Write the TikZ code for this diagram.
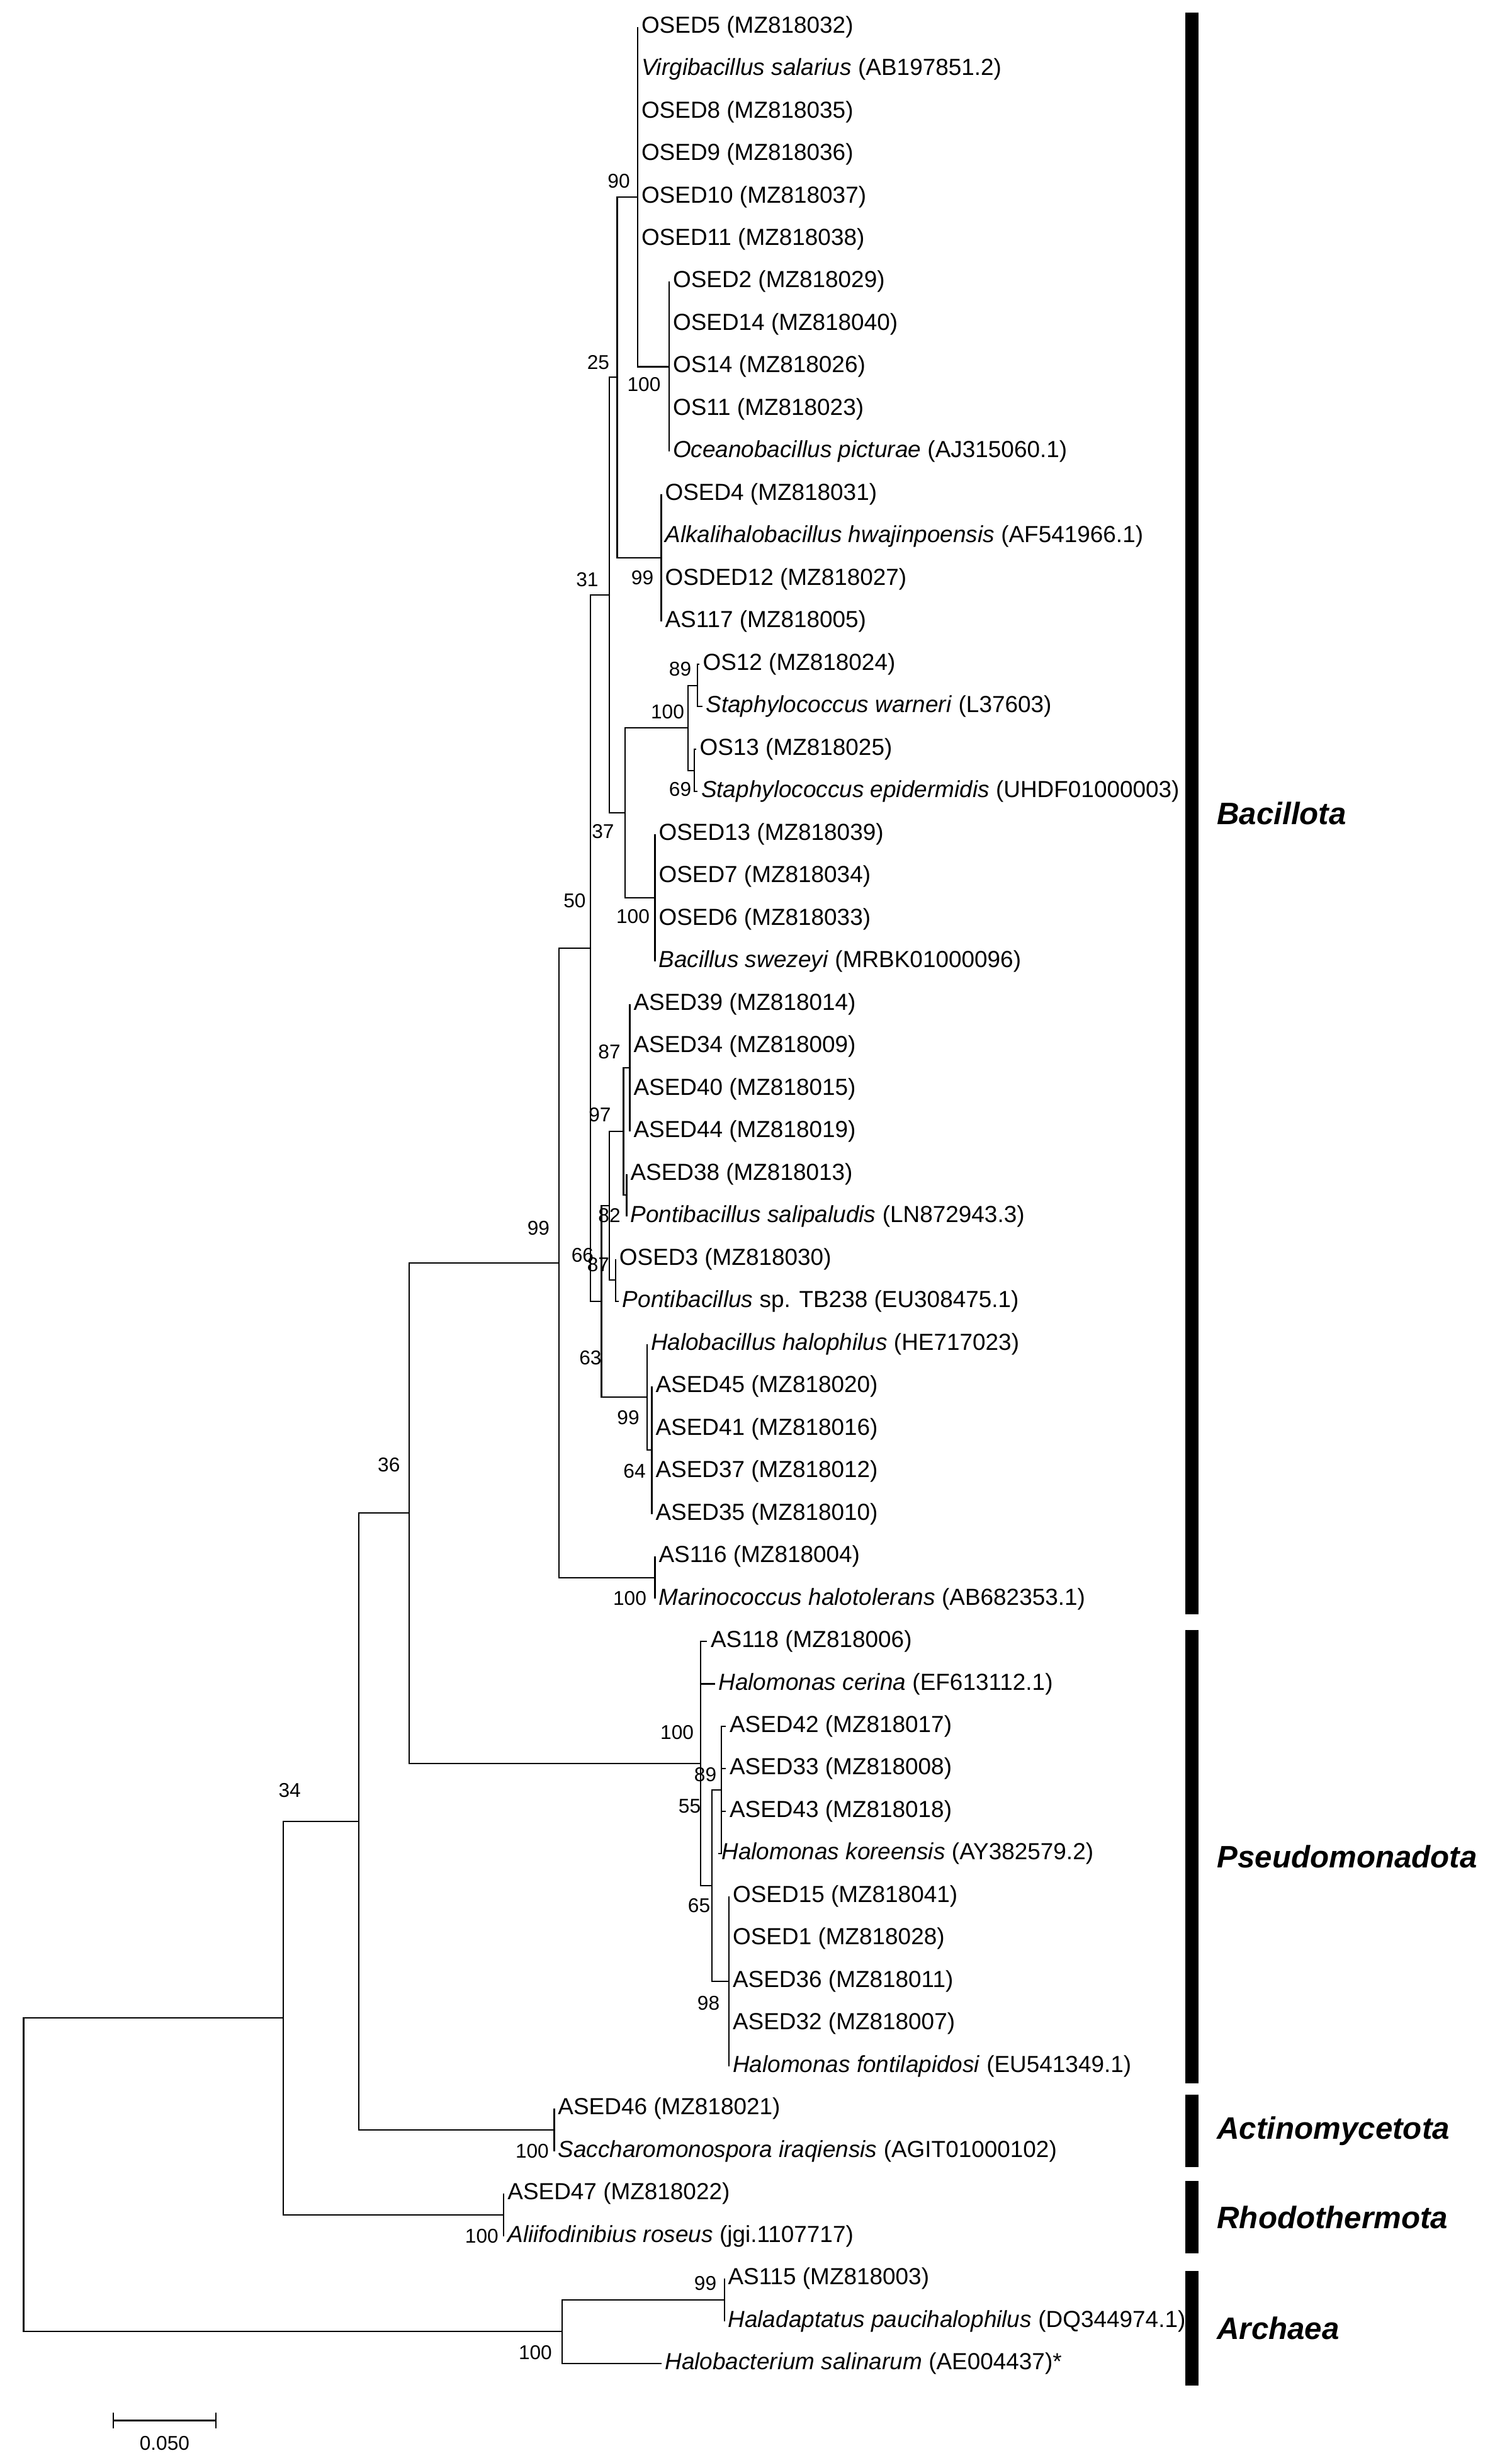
\documentclass[tikz,border=0pt]{standalone}
\usepackage{fontspec}
\setmainfont{Liberation Sans}
\usetikzlibrary{positioning,calc}
\tikzset{
  leaf/.style={anchor=west, inner sep=1.5pt, font=\fontsize{10.5}{12}\selectfont},
  boot/.style={inner sep=0pt, font=\fontsize{9}{10}\selectfont},
  branch/.style={line width=0.6pt},
  bar/.style={line width=0.2cm},
  phylum/.style={anchor=west, font=\fontsize{14}{16}\selectfont\bfseries\itshape},
}
\begin{document}
\begin{tikzpicture}[x=0.025cm, y=-0.025cm]
\useasboundingbox (0,0) rectangle (960,1564);
% leaves
\foreach \i/\x/\t in {
 1/405/{OSED5 (MZ818032)}, 2/405/{\textit{Virgibacillus salarius} (AB197851.2)},
 3/405/{OSED8 (MZ818035)}, 4/405/{OSED9 (MZ818036)}, 5/405/{OSED10 (MZ818037)},
 6/405/{OSED11 (MZ818038)}, 7/425/{OSED2 (MZ818029)}, 8/425/{OSED14 (MZ818040)},
 9/425/{OS14 (MZ818026)}, 10/425/{OS11 (MZ818023)},
 11/425/{\textit{Oceanobacillus picturae} (AJ315060.1)}, 12/420/{OSED4 (MZ818031)},
 13/420/{\textit{Alkalihalobacillus hwajinpoensis} (AF541966.1)},
 14/420/{OSDED12 (MZ818027)}, 15/420/{AS117 (MZ818005)}, 16/444/{OS12 (MZ818024)},
 17/446/{\textit{Staphylococcus warneri} (L37603)}, 18/442/{OS13 (MZ818025)},
 19/443/{\textit{Staphylococcus epidermidis} (UHDF01000003)},
 20/416/{OSED13 (MZ818039)}, 21/416/{OSED7 (MZ818034)}, 22/416/{OSED6 (MZ818033)},
 23/416/{\textit{Bacillus swezeyi} (MRBK01000096)}, 24/400/{ASED39 (MZ818014)},
 25/400/{ASED34 (MZ818009)}, 26/400/{ASED40 (MZ818015)}, 27/400/{ASED44 (MZ818019)},
 28/398/{ASED38 (MZ818013)}, 29/398/{\textit{Pontibacillus salipaludis} (LN872943.3)},
 30/391/{OSED3 (MZ818030)}, 31/393/{\textit{Pontibacillus} sp. TB238 (EU308475.1)},
 32/411/{\textit{Halobacillus halophilus} (HE717023)}, 33/414/{ASED45 (MZ818020)},
 34/414/{ASED41 (MZ818016)}, 35/414/{ASED37 (MZ818012)}, 36/414/{ASED35 (MZ818010)},
 37/416/{AS116 (MZ818004)}, 38/416/{\textit{Marinococcus halotolerans} (AB682353.1)},
 39/449/{AS118 (MZ818006)}, 40/454/{\textit{Halomonas cerina} (EF613112.1)},
 41/461/{ASED42 (MZ818017)}, 42/461/{ASED33 (MZ818008)}, 43/461/{ASED43 (MZ818018)},
 44/456/{\textit{Halomonas koreensis} (AY382579.2)}, 45/463/{OSED15 (MZ818041)},
 46/463/{OSED1 (MZ818028)}, 47/463/{ASED36 (MZ818011)}, 48/463/{ASED32 (MZ818007)},
 49/463/{\textit{Halomonas fontilapidosi} (EU541349.1)}, 50/352/{ASED46 (MZ818021)},
 51/352/{\textit{Saccharomonospora iraqiensis} (AGIT01000102)},
 52/320/{ASED47 (MZ818022)}, 53/320/{\textit{Aliifodinibius roseus} (jgi.1107717)},
 54/460/{AS115 (MZ818003)}, 55/460/{\textit{Haladaptatus paucihalophilus} (DQ344974.1)},
 56/420/{\textit{Halobacterium salinarum} (AE004437)*}}{
  \coordinate (t\i) at (\x,{17+26.98*(\i-1)});
  \node[leaf] (L\i) at (t\i) {\t};
}
% internal nodes
\foreach \n/\x/\y in {a100/425/232.9, n90/405/125, b99/420/354.3, n25/392/239.6,
 n89/443/435.2, n69/441/489.2, staph/437/462.2, c100/416/570, n37/397/516.1,
 n31/387/377.9, a87/400/678, n82/398/758.9, n97/396/718.4, b87/391/812.9,
 pont/387/765.6, n64/414/920.8, n63/411/887, n66/382/826.3, n50/375/602.1,
 m100/416/1001.7, bac/355/801.9, halA/458/1136.6, halB/463/1258, n55/452/1197.3,
 h100/445/1119.7, c99/260/960.8, act/352/1352.4, n36/228/1156.6, rho/320/1406.4,
 n34/180/1281.5, d99/460/1460.3, arc/357/1480.6, root/15/1381}
  \coordinate (\n) at (\x,\y);
% branches
\foreach \p/\c in {a100/t7, a100/t8, a100/t9, a100/t10, a100/t11,
 n90/t1, n90/t2, n90/t3, n90/t4, n90/t5, n90/t6, n90/a100,
 b99/t12, b99/t13, b99/t14, b99/t15, n25/n90, n25/b99,
 n89/t16, n89/t17, n69/t18, n69/t19, staph/n89, staph/n69,
 c100/t20, c100/t21, c100/t22, c100/t23, n37/staph, n37/c100, n31/n25, n31/n37,
 a87/t24, a87/t25, a87/t26, a87/t27, n82/t28, n82/t29, n97/a87, n97/n82,
 b87/t30, b87/t31, pont/n97, pont/b87, n64/t33, n64/t34, n64/t35, n64/t36,
 n63/t32, n63/n64, n66/pont, n66/n63, n50/n31, n50/n66,
 m100/t37, m100/t38, bac/n50, bac/m100,
 halA/t41, halA/t42, halA/t43, halA/t44, halB/t45, halB/t46, halB/t47, halB/t48, halB/t49,
 n55/halA, n55/halB, h100/t39, h100/t40, h100/n55, c99/bac, c99/h100,
 act/t50, act/t51, n36/c99, n36/act, rho/t52, rho/t53, n34/n36, n34/rho,
 d99/t54, d99/t55, arc/d99, arc/t56, root/n34, root/arc}
  \draw[branch] (\p) |- (\c);
% bootstrap values
\foreach \v/\x/\y [count=\k] in {90/393/115, 100/409/244, 25/380/230, 99/408/367,
 31/373/368, 89/432/425, 100/424/452, 69/432/501, 37/383/528, 100/402/582,
 50/365/572, 87/387/668, 97/381/708, 82/387/772, 66/370/797, 87/380/803,
 63/375/862, 99/399/900, 64/403/934, 100/400/1015, 99/342/780, 36/247/930,
 34/184/1137, 100/430/1100, 89/448/1127, 55/438/1147, 65/444/1210, 98/450/1272,
 100/338/1366, 100/306/1420, 99/448/1450, 100/340/1494}
  \node[boot] (bs\k) at (\x,\y) {\v};
% phyla
\foreach \n/\a/\b/\t in {bacl/8/1025/Bacillota, pseu/1035/1323/Pseudomonadota,
 acti/1330/1376/Actinomycetota, rhod/1385/1431/Rhodothermota, arch/1442/1515/Archaea}{
  \coordinate (\n-a) at (757,\a);
  \coordinate (\n-b) at (757,\b);
  \draw[bar] (\n-a) -- (\n-b);
  \node[phylum] (\n) at (768,{(\a+\b)/2}) {\t};
}
% scale bar
\coordinate (sc-a) at (72,1537);
\coordinate (sc-b) at (137,1537);
\draw[branch] (sc-a) -- (sc-b);
\draw[branch] ($(sc-a)+(0,-5)$) -- ($(sc-a)+(0,5)$) ($(sc-b)+(0,-5)$) -- ($(sc-b)+(0,5)$);
\node[boot, below=7pt of $(sc-a)!0.5!(sc-b)$] (sc) {0.050};
\end{tikzpicture}
\end{document}
